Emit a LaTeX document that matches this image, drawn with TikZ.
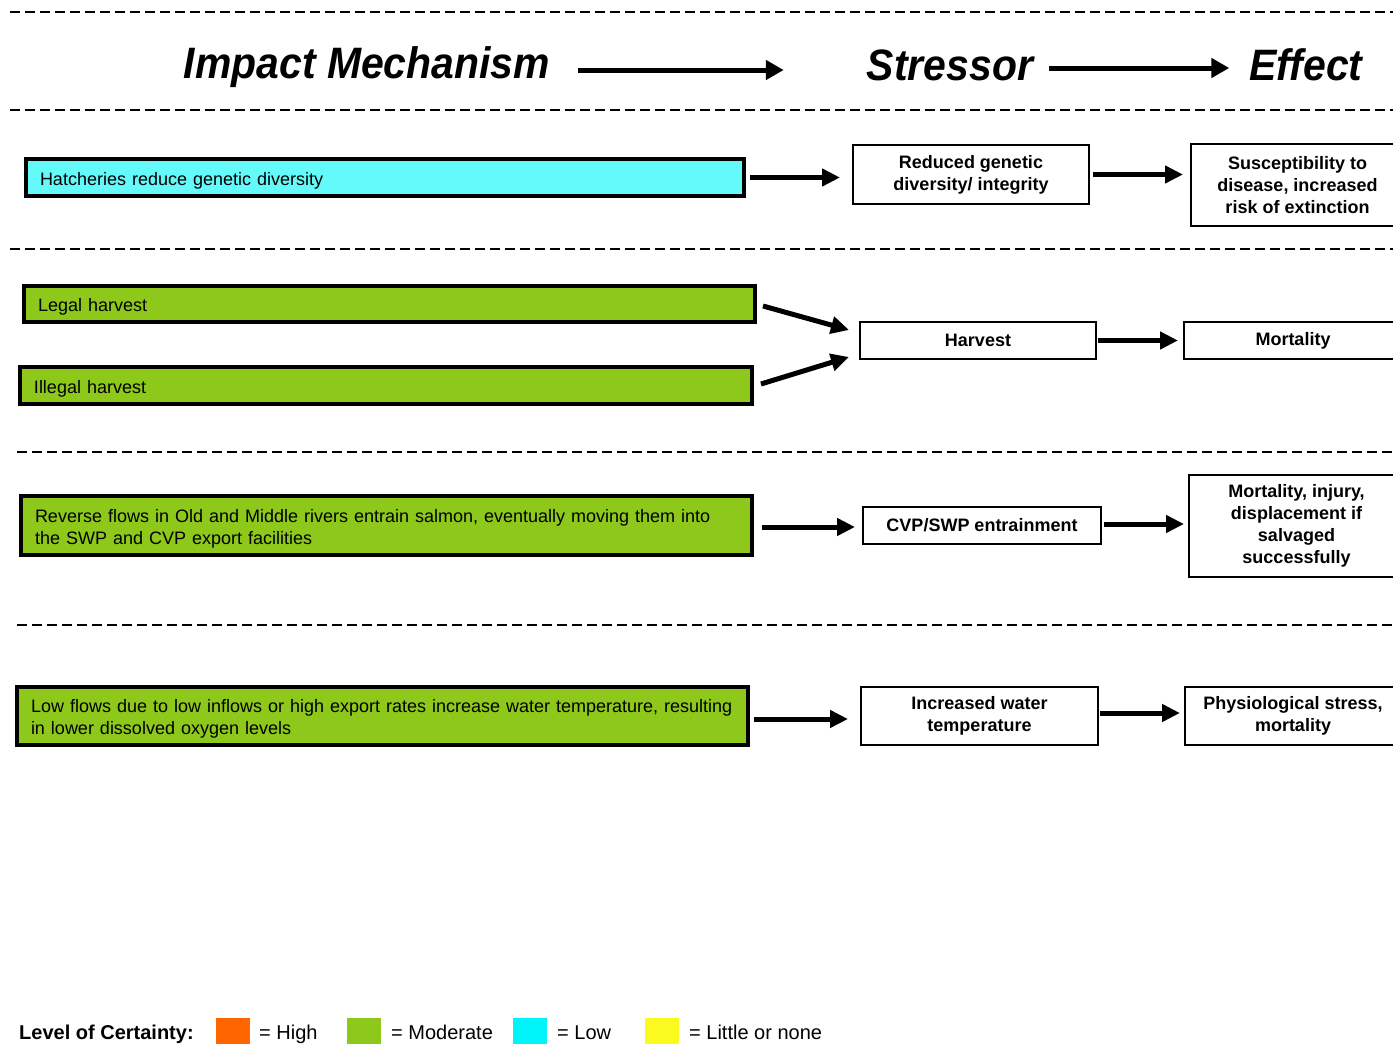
\documentclass[tikz,border=0pt]{standalone}
\usepackage{fontspec}
\setmainfont{Liberation Sans}
\newfontfamily\hdrfont[FakeStretch=0.93]{Liberation Sans}
\usetikzlibrary{arrows.meta}
\definecolor{mgreen}{RGB}{141,200,26}
\definecolor{mcyan}{RGB}{100,250,250}
\definecolor{lorange}{RGB}{255,102,0}
\definecolor{lcyan}{RGB}{0,245,250}
\definecolor{lyellow}{RGB}{250,250,30}
\begin{document}
\begin{tikzpicture}[x=1pt,y=-1pt,
 sep/.style={dash pattern=on 10pt off 5pt, line width=2.5pt},
 mech/.style={draw, line width=4pt, inner xsep=14pt, inner ysep=0pt, align=left, font=\fontsize{18}{22}\selectfont, execute at begin node={\rule{0pt}{19.5pt}}},
 box/.style={draw, line width=2pt, inner sep=0pt, align=center, font=\bfseries\fontsize{18}{22}\selectfont},
 arr/.style={line width=5pt, -{Triangle[length=18pt,width=17pt]}},
 harr/.style={line width=5pt, -{Triangle[length=18pt,width=19pt]}},
 hdr/.style={font=\hdrfont\bfseries\itshape\fontsize{44}{50}\selectfont, inner sep=0pt, anchor=base},
 leg/.style={font=\fontsize{20}{24}\selectfont, inner sep=0pt, anchor=base west},
 swatch/.style={inner sep=0pt, minimum width=34pt, minimum height=30pt, anchor=north west},
]
\useasboundingbox (0,0) rectangle (1393,1044);
\clip (0,0) rectangle (1393,1044);
\fill[white] (0,0) rectangle (1393,1044);

% separators
\draw[sep] (10,12) -- (1393,12);
\draw[sep] (10,110) -- (1393,110);
\draw[sep] (10,249) -- (1393,249);
\draw[sep] (17,452) -- (1393,452);
\draw[sep] (17,625) -- (1393,625);

% header
\node[hdr] (h1) at (367,78) {Impact Mechanism};
\node[hdr] (h2) at (950,80) {Stressor};
\node[hdr] (h3) at (1306,80) {Effect};
\draw[harr] ([xshift=28pt,yshift=8pt]h1.base east) -- ([xshift=-83pt,yshift=10pt]h2.base west);
\draw[harr] ([xshift=16pt,yshift=12pt]h2.base east) -- ([xshift=-20pt,yshift=12pt]h3.base west);

% row 1
\node[mech, fill=mcyan, text width=690pt, minimum height=37pt] (m1) at (385,177.5) {Hatcheries reduce genetic diversity};
\node[box, minimum width=236pt, minimum height=59pt] (s1) at (971,174.5) {Reduced genetic\\diversity/ integrity};
\node[box, minimum width=213pt, minimum height=82pt] (e1) at (1297.5,185) {Susceptibility to\\disease, increased\\risk of extinction};
\draw[arr, shorten <=4pt, shorten >=12pt] (m1.east) -- (m1.east -| s1.west);
\draw[arr, shorten <=3pt, shorten >=7pt] (s1.east) -- (s1.east -| e1.west);

% row 2
\node[mech, fill=mgreen, text width=703pt, minimum height=36pt] (m2a) at (389.5,304) {Legal harvest};
\node[mech, fill=mgreen, text width=704pt, minimum height=37pt] (m2b) at (386,385.5) {Illegal harvest};
\node[box, minimum width=236pt, minimum height=37pt] (s2) at (978,340.5) {Harvest};
\node[box, minimum width=218pt, minimum height=37pt] (e2) at (1293,340.5) {Mortality};
\draw[arr] ([xshift=6pt,yshift=-2pt]m2a.east) -- ([xshift=-10pt,yshift=10.5pt]s2.west);
\draw[arr] ([xshift=7pt,yshift=1.5pt]m2b.east) -- ([xshift=-10pt,yshift=-16.5pt]s2.west);
\draw[arr, shorten <=1pt, shorten >=5pt] (s2.east) -- (s2.east -| e2.west);

% row 3
\node[mech, fill=mgreen, text width=703pt, minimum height=59pt] (m3) at (386.5,525.5) {Reverse flows in Old and Middle rivers entrain salmon, eventually moving them into\\the SWP and CVP export facilities};
\node[box, minimum width=238pt, minimum height=37pt] (s3) at (982,525.5) {CVP/SWP entrainment};
\node[box, minimum width=215pt, minimum height=102pt] (e3) at (1296.5,526) {Mortality, injury,\\displacement if\\salvaged\\successfully};
\draw[arr, shorten <=8pt, shorten >=7pt] ([yshift=-1.5pt]m3.east) -- ([yshift=-1.5pt]m3.east -| s3.west);
\draw[arr, shorten <=2pt, shorten >=4pt] ([yshift=1.5pt]s3.east) -- ([yshift=1.5pt]s3.east -| e3.west);

% row 4
\node[mech, fill=mgreen, text width=703pt, minimum height=58pt] (m4) at (382.5,716) {Low flows due to low inflows or high export rates increase water temperature, resulting\\in lower dissolved oxygen levels};
\node[box, minimum width=237pt, minimum height=58pt] (s4) at (979.5,716) {Increased water\\temperature};
\node[box, minimum width=216pt, minimum height=58pt] (e4) at (1293,716) {Physiological stress,\\mortality};
\draw[arr, shorten <=4pt, shorten >=12pt] ([yshift=-3pt]m4.east) -- ([yshift=-3pt]m4.east -| s4.west);
\draw[arr, shorten <=1pt, shorten >=4pt] ([yshift=3pt]s4.east) -- ([yshift=3pt]s4.east -| e4.west);

% legend
\node[leg, font=\bfseries\fontsize{20}{24}\selectfont] (lt) at (19,1039) {Level of Certainty:};
\node[swatch, fill=lorange] (sw1) at (216,1018) {};
\node[leg] (l1) at (259,1039) {= High};
\node[swatch, fill=mgreen] (sw2) at (347,1018) {};
\node[leg] (l2) at (391,1039) {= Moderate};
\node[swatch, fill=lcyan] (sw3) at (513,1018) {};
\node[leg] (l3) at (557,1039) {= Low};
\node[swatch, fill=lyellow] (sw4) at (645,1018) {};
\node[leg] (l4) at (689,1039) {= Little or none};
\end{tikzpicture}
\end{document}
